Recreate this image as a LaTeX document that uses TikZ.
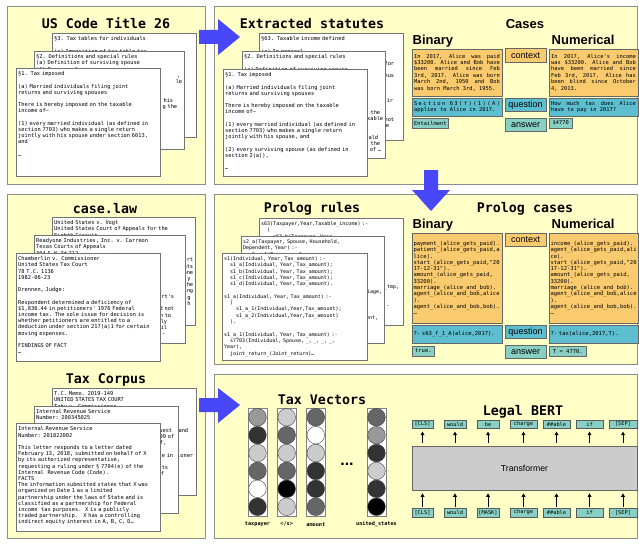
\documentclass[tikz,border=0pt]{standalone}
\usepackage{fontspec}
\setmainfont{Liberation Sans}
\setmonofont{DejaVu Sans Mono}
\usetikzlibrary{arrows.meta}

\definecolor{panelbg}{RGB}{255,255,200}
\definecolor{panelline}{gray}{0.55}
\definecolor{bigblue}{RGB}{72,72,250}
\definecolor{ctxorange}{RGB}{250,202,110}
\definecolor{qteal}{RGB}{92,190,206}
\definecolor{ateal}{RGB}{136,208,196}
\definecolor{transgray}{gray}{0.8}

\newcommand{\pagefont}{\ttfamily\fontsize{5.35}{6.2}\selectfont\parindent=0pt}
\newcommand{\codefont}{\ttfamily\fontsize{5}{6.3}\selectfont\parindent=0pt}
\newcommand{\casefont}{\ttfamily\fontsize{5.5}{6.3}\selectfont\parindent=0pt}
\newcommand{\boxfont}{\ttfamily\fontsize{5.4}{6.45}\selectfont\parindent=0pt\spaceskip=3.25pt plus 20pt minus 1pt}
\newcommand{\titlefont}{\ttfamily\bfseries\fontsize{13.3}{15}\selectfont}
\newcommand{\headfont}{\bfseries\fontsize{13}{15}\selectfont}
\newcommand{\lblfont}{\fontsize{9}{10}\selectfont}
\newcommand{\tokfont}{\ttfamily\fontsize{5.3}{6}\selectfont}
\newcommand{\veclblfont}{\ttfamily\bfseries\fontsize{5.2}{6}\selectfont}
\newcommand{\ind}[1]{\hspace*{#1em}}
\newcommand{\pushr}{\hskip 0pt plus 1filll\relax}

\begin{document}
\catcode`\_=12
\begin{tikzpicture}[x=1pt, y=-1pt,
  panel/.style={draw=panelline, fill=panelbg, line width=0.8pt,
    preaction={fill=black!35, transform canvas={xshift=1.4pt, yshift=-1.4pt}}},
  docpage/.style={draw=black!55, fill=white, line width=0.5pt, anchor=north west, inner sep=0pt,
    preaction={fill=black!40, transform canvas={xshift=1.2pt, yshift=-1.2pt}}},
  pagetext/.style={anchor=north west, inner xsep=2pt, inner ysep=3.5pt, align=left, font=\pagefont},
  paneltitle/.style={anchor=base, inner sep=0pt, font=\titlefont},
  colhead/.style={anchor=base west, inner sep=0pt, font=\headfont},
  casebox/.style={draw=black!60, line width=0.7pt, inner ysep=0pt},
  ctxbox/.style={casebox, fill=ctxorange},
  qbox/.style={casebox, fill=qteal},
  abox/.style={casebox, fill=ateal, inner xsep=1.5pt, minimum height=10pt, anchor=west},
  caselbl/.style={casebox, minimum width=41pt, minimum height=13.5pt, inner sep=0pt, font=\lblfont},
  veccol/.style={draw=black!50, fill=white, minimum width=18.5pt, minimum height=107.4pt, inner sep=0pt},
  vecdot/.style={circle, draw=black!75, minimum size=17.6pt, inner sep=0pt},
  veclbl/.style={inner sep=0pt, font=\veclblfont},
  tokbox/.style={draw=black!65, fill=ateal, line width=0.6pt, inner sep=0pt, font=\tokfont},
  tokarrow/.style={-{Triangle[length=3.5pt,width=3.8pt]}, line width=1pt, shorten >=3pt, shorten <=3pt}]

\useasboundingbox (0,0) rectangle (639,543);

% panels
\draw[panel] (7,6) rectangle (205,184);
\draw[panel] (214,6) rectangle (637,184);
\draw[panel] (7,194) rectangle (205,538);
\draw[panel] (214,194) rectangle (637,364);
\draw[panel] (214,374) rectangle (637,538);

% US Code
\node[paneltitle] (uscT) at (106,29) {US Code Title 26};
\node[docpage, minimum width=144pt, minimum height=104pt] (u3) at (52,33) {};
\node[pagetext, text width=140pt] (u3t) at (u3.north west) {§3. Tax tables for individuals\\ ~\\ (a) Imposition of tax table tax};
\node[docpage, minimum width=150pt, minimum height=98pt] (u2) at (34,51) {};
\node[pagetext, text width=146pt] (u2t) at (u2.north west) {§2. Definitions and special rules\\ (a) Definition of surviving spouse\\ (1) In general\\ \pushr ,\kern2pt\\ \pushr le\\ ~\\ ~\\ \pushr his\kern9pt\\ \pushr g the\kern5pt};
\node[docpage, minimum width=144pt, minimum height=108pt] (u1) at (16,68) {};
\node[pagetext, text width=140pt] (u1t) at (u1.north west) {§1. Tax imposed\\ ~\\ (a) Married individuals filing joint\\ returns and surviving spouses\\ ~\\ There is hereby imposed on the taxable\\ income of—\\ ~\\ (1) every married individual (as defined in\\ section 7703) who makes a single return\\ jointly with his spouse under section 6013,\\ and\\ ~\\ …};

% Extracted statutes
\node[paneltitle] (statT) at (312,29) {Extracted statutes};
\node[docpage, minimum width=144pt, minimum height=107pt] (s63) at (259,33) {};
\node[pagetext, text width=140pt] (s63t) at (s63.north west) {§63. Taxable income defined\\ ~\\ (a) In general\\ ~\\ \pushr for\kern7pt\\ ~\\ \pushr hus\kern7pt\\ ~\\ ~\\ ~\\ \pushr ir\kern8pt\\ ~\\ ~\\ \pushr not\kern7pt\\ \pushr e\kern12pt};
\node[docpage, minimum width=143pt, minimum height=107pt] (s2) at (242,51) {};
\node[pagetext, text width=139pt] (s2t) at (s2.north west) {§2. Definitions and special rules\\ ~\\ (a) Definition of surviving spouse\\ ~\\ ~\\ ~\\ ~\\ ~\\ ~\\ \pushr the\kern3pt\\ \pushr xable\\ ~\\ ~\\ \pushr ald\kern5pt\\ \pushr the\kern3pt\\ \pushr of …\kern2pt};
\node[docpage, minimum width=144pt, minimum height=107pt] (s1) at (223,69) {};
\node[pagetext, text width=140pt] (s1t) at (s1.north west) {§1. Tax imposed\\ ~\\ (a) Married individuals filing joint\\ returns and surviving spouses\\ ~\\ There is hereby imposed on the taxable\\ income of—\\ ~\\ (1) every married individual (as defined in\\ section 7703) who makes a single return\\ jointly with his spouse, and\\ ~\\ (2) every surviving spouse (as defined in\\ section 2(a)),\\ ~\\ …};

% Cases
\node[anchor=base, inner sep=0pt, font=\headfont] (casesT) at (525,28.7) {Cases};
\node[colhead] (cbinH) at (412.5,44.7) {Binary};
\node[colhead] (cnumH) at (551.5,44.7) {Numerical};
\node[ctxbox, text width=86pt, inner xsep=2pt, minimum height=47pt, align=justify, font=\boxfont] (cbctx) at (457,72.5) {In 2017, Alice was paid\linebreak \$33200. Alice and Bob have\linebreak been married since Feb\linebreak 3rd, 2017. Alice was born\linebreak March 2nd, 1950 and Bob\linebreak was born March 3rd, 1955.};
\node[ctxbox, text width=85pt, inner xsep=2pt, minimum height=47pt, align=justify, font=\boxfont] (cnctx) at (593.5,72.5) {In 2017, Alice's income\linebreak was \$33200. Alice and Bob\linebreak have been married since\linebreak Feb 3rd, 2017. Alice has\linebreak been blind since October\linebreak 4, 2013.};
\node[qbox, text width=86pt, inner xsep=2pt, minimum height=18pt, align=justify, font=\boxfont] (cbq) at (457,107) {\parfillskip=0pt \makebox[86pt][s]{S\hfill e\hfill c\hfill t\hfill i\hfill o\hfill n\hfill\hfill\hfill 6\hfill 3\hfill (\hfill f\hfill )\hfill (\hfill 1\hfill )\hfill (\hfill A\hfill )}\linebreak applies to Alice in 2017.};
\node[qbox, text width=85pt, inner xsep=2pt, minimum height=18pt, align=justify, font=\boxfont] (cnq) at (593.5,107) {How much tax does Alice\linebreak have to pay in 2017?};
\node[abox, minimum width=36pt, font=\boxfont] (cba) at (412,123) {Entailment};
\node[abox, minimum width=23pt, font=\boxfont] (cna) at (549,123) {\$4770};
\node[caselbl, fill=ctxorange] (cctxL) at (525.5,55.5) {context};
\node[caselbl, fill=qteal] (cqL) at (525.5,105) {question};
\node[caselbl, fill=ateal] (caL) at (525.5,125) {answer};

% case.law and Tax Corpus
\node[paneltitle] (clawT) at (105,213) {case.law};
\node[docpage, minimum width=143pt, minimum height=108pt] (vogt) at (52,217) {};
\node[pagetext, text width=139pt] (vogtt) at (vogt.north west) {United States v. Vogt\\ United States Court of Appeals for the\\ Eighth Circuit\\ ~\\ ~\\ ~\\ \pushr rt\\ \pushr ounts\\ \pushr one\\ \pushr y\kern2.5pt\\ \pushr r the\\ \pushr ring\\ \pushr g\kern2.5pt\\ \pushr h\kern2.5pt};
\node[docpage, minimum width=151pt, minimum height=108pt] (ready) at (34,235) {};
\node[pagetext, text width=147pt] (readyt) at (ready.north west) {Readyone Industries, Inc. v. Carreon\\ Texas Courts of Appeals\\ 304 S.W.3d 712\\ ~\\ ~\\ ~\\ ~\\ ~\\ ~\\ \pushr urt's\kern9pt\\ ~\\ \pushr d not\kern9pt\\ \pushr n to\kern12pt\\ \pushr ly\kern16pt\\ \pushr il\kern16pt\\ \pushr -\kern18pt};
\node[docpage, minimum width=144pt, minimum height=108pt] (chamb) at (16,253) {};
\node[pagetext, text width=140pt] (chambt) at (chamb.north west) {Chamberlin v. Commissioner\\ United States Tax Court\\ 78 T.C. 1136\\ 1982-06-23\\ ~\\ Drennen, Judge:\\ ~\\ Respondent determined a deficiency of\\ \$1,836.44 in petitioners' 1976 Federal\\ income tax. The sole issue for decision is\\ whether petitioners are entitled to a\\ deduction under section 217(a)1 for certain\\ moving expenses.\\ ~\\ FINDINGS OF FACT\\ …};

\node[paneltitle] (corpT) at (106,383) {Tax Corpus};
\node[docpage, minimum width=144pt, minimum height=107pt] (memo) at (52,388) {};
\node[pagetext, text width=140pt] (memot) at (memo.north west) {T.C. Memo. 2019-149\\ UNITED STATES TAX COURT\\ Tahu v. Commissioner\\ ~\\ ~\\ ~\\ \pushr and\kern6pt\\ ~\\ ~\\ ~\\ \pushr ioner\kern1pt};
\node[docpage, minimum width=144pt, minimum height=107pt] (irsb) at (34,406) {};
\node[pagetext, text width=140pt] (irsbt) at (irsb.north west) {Internal Revenue Service\\ Number: 200345025\\ ~\\ \pushr uest\kern4pt\\ \pushr 99 of\kern2pt\\ \pushr f,\kern10pt\\ ~\\ \pushr e in\kern3pt\\ ~\\ \pushr ts\kern8pt\\ \pushr f\kern12pt};
\node[docpage, minimum width=144pt, minimum height=108pt] (irsa) at (16,423) {};
\node[pagetext, text width=140pt] (irsat) at (irsa.north west) {Internal Revenue Service\\ Number: 201822002\\ ~\\ This letter responds to a letter dated\\ February 13, 2018, submitted on behalf of X\\ by its authorized representative,\\ requesting a ruling under § 7704(e) of the\\ Internal\ \ Revenue Code (Code).\\ FACTS\\ The information submitted states that X was\\ organized on Date 1 as a limited\\ partnership under the laws of State and is\\ classified as a partnership for Federal\\ income\ \ tax purposes.\ \ X is a publicly\\ traded partnership.\ \ \ X has a controlling\\ indirect equity interest in A, B, C, D…};

% Prolog rules
\node[paneltitle] (rulesT) at (312,212) {Prolog rules};
\node[docpage, minimum width=144pt, minimum height=107pt] (r63) at (259,218) {};
\node[pagetext, text width=140pt, font=\codefont] (r63t) at (r63.north west) {s63(Taxpayer,Year,Taxable_income) :-\\ \ind{1.2}(\\ \ind{2.4}s63_b(Taxpayer, Year,\\ ~\\ ~\\ ~\\ ~\\ ~\\ ~\\ ~\\ \pushr _tmp,\kern2pt\\ ~\\ ~\\ \pushr :-\kern12pt};
\node[docpage, minimum width=143pt, minimum height=107pt] (r2) at (241,236) {};
\node[pagetext, text width=139pt, font=\codefont] (r2t) at (r2.north west) {s2_a(Taxpayer, Spouse, Household,\\ Dependent, Year) :-\\ \ind{1.2}s2_a_1(Taxpayer, Spouse,\\ \pushr ,\kern14pt\\ ~\\ ~\\ ~\\ ~\\ \pushr iage,\\ ~\\ ~\\ ~\\ \pushr ent,\kern4pt};
\node[docpage, minimum width=145pt, minimum height=107pt] (r1) at (222,253) {};
\node[pagetext, text width=141pt, font=\codefont] (r1t) at (r1.north west) {s1(Individual, Year, Tax_amount) :-\\ \ind{1.2}s1_a(Individual, Year, Tax_amount);\\ \ind{1.2}s1_b(Individual, Year, Tax_amount);\\ \ind{1.2}s1_c(Individual, Year, Tax_amount);\\ \ind{1.2}s1_d(Individual, Year, Tax_amount).\\ ~\\ s1_a(Individual, Year, Tax_amount) :-\\ \ind{1.2}(\\ \ind{2.4}s1_a_1(Individual,Year,Tax_amount);\\ \ind{2.4}s1_a_2(Individual,Year,Tax_amount)\\ \ind{1.2}).\\ ~\\ s1_a_1(Individual, Year, Tax_amount) :-\\ \ind{1.2}s7703(Individual, Spouse, _, _, _, _,\\ Year),\\ \ind{1.2}joint_return_(Joint_return)…};

% Prolog cases
\node[paneltitle] (pcasesT) at (525,212) {Prolog cases};
\node[colhead] (pbinH) at (412.5,228) {Binary};
\node[colhead] (pnumH) at (551.5,228) {Numerical};
\node[ctxbox, text width=87pt, inner xsep=1.5pt, minimum height=90pt, align=left, font=\casefont] (pbctx) at (457,278) {payment_(alice_gets_paid).\\ patient_(alice_gets_paid,a\\ lice).\\ start_(alice_gets_paid,"20\\ 17-12-31").\\ amount_(alice_gets_paid,\\ 33200).\\ marriage_(alice_and_bob).\\ agent_(alice_and_bob,alice\\ ).\\ agent_(alice_and_bob,bob).\\ …};
\node[ctxbox, text width=86pt, inner xsep=1.5pt, minimum height=90pt, align=left, font=\casefont] (pnctx) at (593.5,278) {income_(alice_gets_paid).\\ agent_(alice_gets_paid,ali\\ ce).\\ start_(alice_gets_paid,"20\\ 17-12-31").\\ amount_(alice_gets_paid,\\ 33200).\\ marriage_(alice_and_bob).\\ agent_(alice_and_bob,alice\\ ).\\ agent_(alice_and_bob,bob).\\ …};
\node[qbox, text width=87pt, inner xsep=1.5pt, minimum height=18pt, align=left, font=\casefont] (pbq) at (457,334) {?- s63_f_1_A(alice,2017).};
\node[qbox, text width=86pt, inner xsep=1.5pt, minimum height=18pt, align=left, font=\casefont] (pnq) at (593.5,334) {?- tax(alice,2017,T).};
\node[abox, minimum width=22pt, font=\casefont] (pba) at (412,351) {true.};
\node[abox, minimum width=37pt, font=\casefont] (pna) at (549,351) {T = 4770.};
\node[caselbl, fill=ctxorange] (pctxL) at (525.5,240) {context};
\node[caselbl, fill=qteal] (pqL) at (525.5,332) {question};
\node[caselbl, fill=ateal] (paL) at (525.5,352) {answer};

% Tax vectors
\node[paneltitle] (vecT) at (322,404) {Tax Vectors};
\node[veccol] (col1) at (257.5,462) {};
\node[veccol] (col2) at (286.7,462) {};
\node[veccol] (col3) at (315.8,462) {};
\node[veccol] (col4) at (376.5,462) {};
\foreach \g [count=\k] in {60,20,80,40,100,20}
  \node[vecdot, fill=white!\g!black] (d1-\k) at (257.5,{399.35+17.9*\k}) {};
\foreach \g [count=\k] in {80,40,80,40,0,80}
  \node[vecdot, fill=white!\g!black] (d2-\k) at (286.7,{399.35+17.9*\k}) {};
\foreach \g [count=\k] in {40,100,80,20,20,40}
  \node[vecdot, fill=white!\g!black] (d3-\k) at (315.8,{399.35+17.9*\k}) {};
\foreach \g [count=\k] in {40,60,20,80,20,0}
  \node[vecdot, fill=white!\g!black] (d4-\k) at (376.5,{399.35+17.9*\k}) {};
\node[font=\bfseries\fontsize{16}{16}\selectfont, inner sep=0pt] (vdots) at (347,464) {...};
\node[veclbl] (col1L) at (257.5,524.3) {taxpayer};
\node[veclbl] (col2L) at (286.7,524.3) {</s>};
\node[veclbl] (col3L) at (315.8,524.3) {amount};
\node[veclbl] (col4L) at (376.5,524.3) {united_states};

% Legal BERT
\node[paneltitle] (bertT) at (523,415) {Legal BERT};
\node[draw=black!60, fill=transgray, line width=0.7pt, minimum width=225pt, minimum height=44pt, font=\fontsize{8.7}{10}\selectfont] (tr) at (524.5,468) {Transformer};
\node[tokbox, minimum width=21pt, minimum height=8.3pt] (t1) at (422.5,424.2) {[CLS]};
\node[tokbox, minimum width=22pt, minimum height=8.3pt] (t2) at (455,424.2) {would};
\node[tokbox, minimum width=22pt, minimum height=8.3pt] (t3) at (488,424.2) {be};
\node[tokbox, minimum width=27pt, minimum height=8.3pt] (t4) at (523.5,424.2) {charge};
\node[tokbox, minimum width=27pt, minimum height=8.3pt] (t5) at (556.5,424.2) {\#\#able};
\node[tokbox, minimum width=27pt, minimum height=8.3pt] (t6) at (589.5,424.2) {if};
\node[tokbox, minimum width=28pt, minimum height=8.3pt] (t7) at (623,424.2) {[SEP]};
\node[tokbox, minimum width=21pt, minimum height=9pt] (b1) at (422.5,512.5) {[CLS]};
\node[tokbox, minimum width=22pt, minimum height=9pt] (b2) at (455,512.5) {would};
\node[tokbox, minimum width=22pt, minimum height=9pt] (b3) at (488,512.5) {[MASK]};
\node[tokbox, minimum width=27pt, minimum height=9pt] (b4) at (523.5,512.5) {charge};
\node[tokbox, minimum width=27pt, minimum height=9pt] (b5) at (556.5,512.5) {\#\#able};
\node[tokbox, minimum width=27pt, minimum height=9pt] (b6) at (589.5,512.5) {if};
\node[tokbox, minimum width=28pt, minimum height=9pt] (b7) at (623,512.5) {[SEP]};
\foreach \n in {1,...,7} {
  \draw[tokarrow] (tr.north -| t\n) -- (t\n);
  \draw[tokarrow, shorten <=1pt] (b\n) -- (tr.south -| b\n);
}

% big arrows
\fill[bigblue] (199,30) -- (218,30) -- (218,19) -- (240,37) -- (218,55) -- (218,44) -- (199,44) -- cycle;
\fill[bigblue] (424,170) -- (438,170) -- (438,190) -- (450,190) -- (431,211) -- (412,190) -- (424,190) -- cycle;
\fill[bigblue] (199,398) -- (218,398) -- (218,388) -- (240,405) -- (218,423) -- (218,412) -- (199,412) -- cycle;
\end{tikzpicture}
\end{document}
